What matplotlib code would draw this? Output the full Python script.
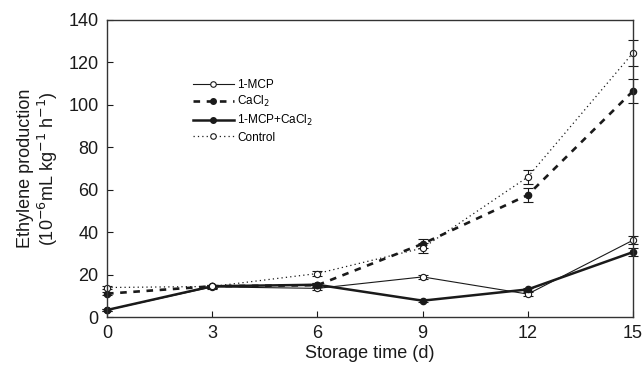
import matplotlib
matplotlib.use("Agg")
import matplotlib.pyplot as plt
from matplotlib.lines import Line2D

plt.rcParams['font.family'] = ['Liberation Sans', 'DejaVu Sans']

# storage time (d)
days = [0, 3, 6, 9, 12, 15]

# ethylene production, 10^-6 mL kg^-1 h^-1
mcp = [3.3, 14.2, 13.5, 18.9, 10.8, 36.2]
cacl2 = [11.0, 14.5, 15.0, 34.5, 57.5, 106.5]
mcp_cacl2 = [3.3, 14.5, 15.2, 7.7, 13.0, 30.6]
control = [13.9, 14.4, 20.5, 32.5, 66.0, 124.5]

# standard errors
mcp_err = [0.6, 0.8, 1.0, 1.0, 0.8, 1.8]
cacl2_err = [0.6, 0.8, 1.0, 2.2, 3.2, 5.5]
mcp_cacl2_err = [0.6, 0.8, 1.0, 0.8, 0.8, 1.8]
control_err = [0.6, 0.8, 1.0, 2.2, 3.2, 6.0]

labels = ['1-MCP', 'CaCl$_2$', '1-MCP+CaCl$_2$', 'Control']

fig = plt.figure(figsize=(6.44, 3.75), dpi=100)
ax = fig.add_axes([107 / 644, 1 - 317 / 375, 526 / 644, 297 / 375])

c = '#1a1a1a'
eb = dict(ecolor=c, elinewidth=0.8, capsize=3.5, capthick=0.8)

styles = [
    dict(color=c, lw=0.8, ls='-', marker='o', ms=4.5, mfc='white', mec=c, mew=0.8),
    dict(color=c, lw=1.9, ls=(0, (2.5, 2.5)), marker='o', ms=4.5, mfc=c, mec=c),
    dict(color=c, lw=1.8, ls='-', marker='o', ms=4.5, mfc=c, mec=c),
    dict(color=c, lw=0.9, ls=(0, (1, 2.5)), marker='o', ms=4.5, mfc='white', mec=c, mew=0.8),
]
series = [(mcp, mcp_err), (cacl2, cacl2_err), (mcp_cacl2, mcp_cacl2_err),
          (control, control_err)]

for (vals, err), st in zip(series, styles):
    lines = ax.errorbar(days, vals, yerr=err, **st, **eb)
    for art in lines.get_children():
        art.set_clip_on(False)

ax.set_xlim(0, 15)
ax.set_ylim(0, 140)
ax.set_xticks(days)
ax.set_yticks(range(0, 141, 20))
ax.tick_params(direction='in', length=4, width=0.8, labelsize=13, pad=6, colors=c)
for s in ax.spines.values():
    s.set_linewidth(1.0)
    s.set_color('#333333')

ax.set_xlabel('Storage time (d)', fontsize=13, color=c, labelpad=2)
ax.set_ylabel('Ethylene production\n(10$^{-6}$mL kg$^{-1}$ h$^{-1}$)', fontsize=13,
              color=c, labelpad=6, linespacing=1.1)

handles = [Line2D([], [], **{**st, 'ms': 4}) for st in styles]
ax.legend(handles, labels, loc='upper left', bbox_to_anchor=(0.153, 0.822),
          frameon=False, fontsize=8.5, handlelength=3.4, handletextpad=0.3,
          labelspacing=0.3, borderpad=0)

fig.savefig('out.png', dpi=100)
